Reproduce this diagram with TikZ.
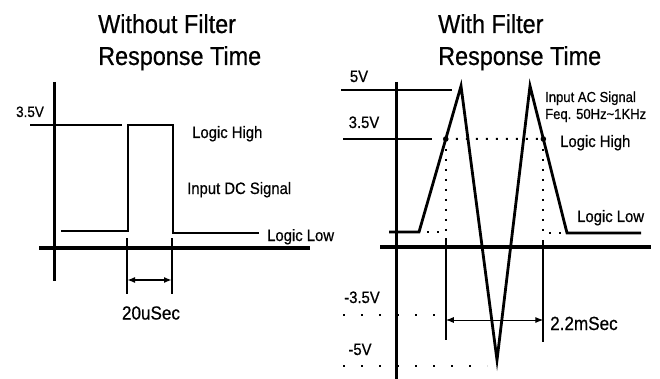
\documentclass[tikz,border=0pt]{standalone}
\usepackage{fontspec}
\setmainfont[FakeStretch=0.9,FakeBold=0.6]{Liberation Sans}
\usetikzlibrary{arrows.meta,calc}

\begin{document}
\begin{tikzpicture}[x=1pt,y=-1pt,
  axisline/.style={line width=3pt},
  groundline/.style={line width=4.5pt},
  signal/.style={line width=2.8pt,line join=miter},
  refline/.style={line width=2.2pt},
  dimtick/.style={line width=2pt},
  dotline/.style={line width=2pt,dash pattern=on 2pt off 8pt},
  widedots/.style={line width=2pt,dash pattern=on 2pt off 16pt},
  dim/.style={{Latex[length=8pt,width=6pt]}-{Latex[length=8pt,width=6pt]}},
  title/.style={anchor=base west,inner sep=0pt,font=\fontsize{26}{30}\selectfont},
  lbl/.style={anchor=base west,inner sep=0pt,font=\fontsize{16.5}{18}\selectfont},
  small/.style={anchor=base west,inner sep=0pt,font=\fontsize{14.5}{17}\selectfont},
  volt/.style={anchor=base,inner sep=0pt,font=\fontsize{16.5}{18}\selectfont},
  timelbl/.style={inner sep=0pt,font=\fontsize{19}{21}\selectfont}]
\useasboundingbox (0,0) rectangle (660,379);

% left: without filter
\node (tLa) at (98,33) [title]{Without Filter};
\node (tLb) at (98,65) [title]{Response Time};
\draw [axisline] (54,82) -- (54,281);
\draw [groundline] (39,248) -- (310,248);
\draw [refline] (30,125) -- (122,125);
\node (vL) at (30,117) [volt,font=\fontsize{15}{17}\selectfont]{3.5V};
\draw [signal] (61,231) -- (128,231) -- (128,125) -- (173,125) -- (173,233) -- (259,233);
\node (hiL) at (192,138) [lbl]{Logic High};
\node (dcL) at (187,194) [lbl]{Input DC Signal};
\node (loL) at (267,241) [lbl]{Logic Low};
\coordinate (ta) at (127,238);
\coordinate (tb) at (172,238);
\draw [dimtick] (ta) -- (127,294);
\draw [dimtick] (tb) -- (172,294);
\draw [dim,line width=1.8pt] (ta |- 0,280) -- (tb |- 0,280);
\node (tmL) at (151,313) [timelbl]{20uSec};

% right: with filter
\node (tRa) at (438,33) [title]{With Filter};
\node (tRb) at (438,65) [title]{Response Time};
\draw [axisline] (396,82) -- (396,379);
\draw [groundline] (380,247) -- (651,247);
\draw [refline] (341,90) -- (452,90);
\draw [refline] (343,139) -- (432,139);
\node (v5) at (359,82) [volt]{5V};
\node (v35) at (364,128) [volt]{3.5V};
\node (vm35) at (362,303) [volt]{-3.5V};
\node (vm5) at (360,355) [volt]{-5V};
\draw [widedots] (343,315) -- (437,315);
\draw [widedots] (343,366) -- (487,366);

\coordinate (r0) at (389,232);
\coordinate (r1) at (419,232);
\coordinate (rp1) at (461,86);
\coordinate (rt) at (497,360);
\coordinate (rp2) at (530,86);
\coordinate (r2) at (567,233);
\coordinate (r3) at (641,233);
\coordinate (hi1) at ($(r1)!0.637!(rp1)$);
\coordinate (hi2) at ($(rp2)!0.3605!(r2)$);
\draw [dotline] (hi1) -- (hi2);
\draw [dotline] (hi1) -- (hi1 |- r1) -- (r1);
\draw [dotline] (hi2) -- (hi2 |- r2) -- (r2);
\draw [signal] (r0) -- (r1) -- (rp1) -- (rt) -- (rp2) -- (r2) -- (r3);
\fill (hi1) circle (2.8);
\fill (hi2) circle (2.8);

\draw [dimtick] (hi1 |- 0,238) -- (hi1 |- 0,340);
\draw [dimtick] (hi2 |- 0,240) -- (hi2 |- 0,342);
\draw [dim,line width=1pt] (hi1 |- 0,320) -- (hi2 |- 0,320);
\node (tmR) at (550,330) [timelbl,anchor=base west]{2.2mSec};

\node (acR) at (545,102) [small]{Input AC Signal};
\node (fqR) at (545,119) [small]{Feq. 50Hz\textasciitilde1KHz};
\node (hiR) at (560,147) [lbl]{Logic High};
\node (loR) at (577,222) [lbl]{Logic Low};
\end{tikzpicture}
\end{document}
